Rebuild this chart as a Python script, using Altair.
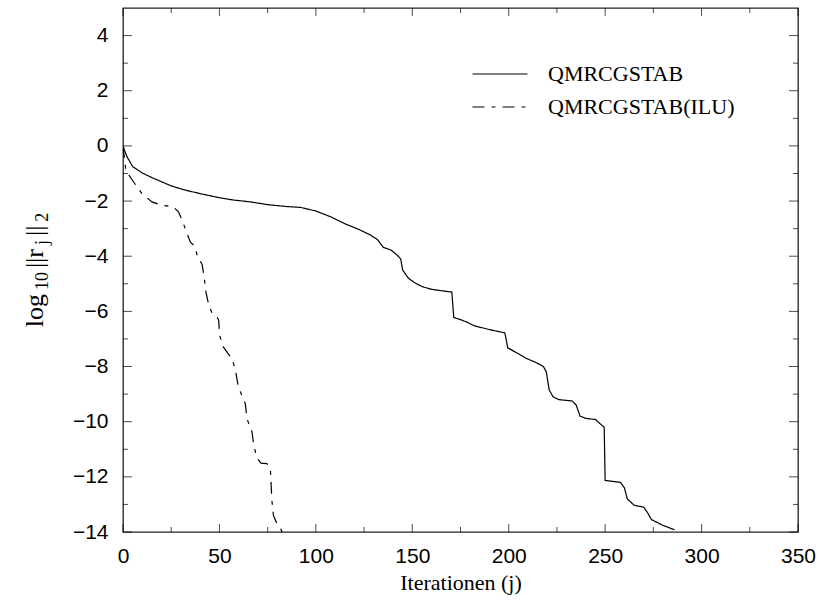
import altair as alt
import pandas as pd

# ---- data ----
methods = ["QMRCGSTAB", "QMRCGSTAB(ILU)"]

solid_x = [0, 1, 2, 5, 10, 15, 20, 25, 32, 40, 50, 57, 66, 75, 85, 92, 100, 108, 115, 122,
           128, 132, 135, 139, 142, 144, 145, 148, 151, 155, 160, 166, 170.5, 171.5, 175, 178,
           182, 190, 198, 199.5, 204, 209, 214, 218, 219.5, 221, 223, 226, 233, 235, 237, 240,
           245, 247, 249.5, 250, 258, 260, 261.5, 265, 270, 272, 274, 280, 286]
solid_y = [0.0, -0.2, -0.38, -0.75, -0.98, -1.15, -1.3, -1.45, -1.6, -1.73, -1.88, -1.96, -2.03,
           -2.13, -2.2, -2.23, -2.36, -2.58, -2.82, -3.02, -3.22, -3.4, -3.68, -3.78, -3.95, -4.1,
           -4.5, -4.8, -4.95, -5.1, -5.2, -5.26, -5.3, -6.22, -6.3, -6.38, -6.52, -6.66, -6.78,
           -7.32, -7.5, -7.7, -7.85, -8.0, -8.2, -8.85, -9.1, -9.2, -9.25, -9.4, -9.8, -9.88,
           -9.92, -10.05, -10.2, -12.13, -12.2, -12.4, -12.8, -13.03, -13.1, -13.3, -13.55,
           -13.76, -13.92]

ilu_x = [0, 1.5, 3, 5.5, 9.8, 15, 20, 26, 28.8, 30.6, 32.8, 34.9, 37.5, 38.4, 41, 42, 43, 44.4,
         46.1, 48.7, 49.6, 50.1, 52, 54.5, 56.5, 58.2, 59.5, 61.5, 63.4, 64.3, 66.9, 67.7, 69.3,
         71.5, 74.6, 76.4, 77.2, 78, 79.5, 81.5, 82.5]
ilu_y = [0.0, -0.9, -1.05, -1.31, -1.73, -2.03, -2.15, -2.21, -2.39, -2.69, -3.1, -3.48, -3.66,
         -3.96, -4.3, -4.7, -5.3, -5.75, -6.05, -6.2, -6.32, -6.87, -7.29, -7.53, -7.71, -8.1,
         -8.62, -9.04, -9.34, -9.9, -10.37, -10.8, -11.3, -11.5, -11.52, -11.7, -12.85, -13.4,
         -13.65, -13.85, -14.0]

x_major = [0, 50, 100, 150, 200, 250, 300, 350]
x_minor = [25, 75, 125, 175, 225, 275, 325]
y_major = [-14, -12, -10, -8, -6, -4, -2, 0, 2, 4]
y_minor = [-13, -11, -9, -7, -5, -3, -1, 1, 3]

# y-axis title pieces: (text, is_subscript)
ytitle_parts = [("log", False), ("10", True), ("||r", False), ("j", True), ("||", False), ("2", True)]

df = pd.DataFrame({
    "j": solid_x + ilu_x,
    "r": solid_y + ilu_y,
    "method": [methods[0]] * len(solid_x) + [methods[1]] * len(ilu_x),
})

W, H = 675, 524
PAD_L, PAD_T = 123, 8

xscale = alt.Scale(domain=[0, 350], nice=False, zero=False)
yscale = alt.Scale(domain=[-14, 5], nice=False, zero=False)

xaxis = alt.Axis(values=x_major, title="Iterationen (j)", ticks=False, domain=False,
                 grid=False, labelPadding=13, titlePadding=6, format="d", labelFlush=False)
yaxis = alt.Axis(values=y_major, title=None, ticks=False, domain=False,
                 grid=False, labelPadding=15, format="d", labelFlush=False)

lines = alt.Chart(df).mark_line(color="black", strokeWidth=1.2, clip=True).encode(
    x=alt.X("j:Q", scale=xscale, axis=xaxis),
    y=alt.Y("r:Q", scale=yscale, axis=yaxis),
    strokeDash=alt.StrokeDash(
        "method:N",
        scale=alt.Scale(domain=methods, range=[[1, 0], [12, 7, 4, 7]]),
        legend=alt.Legend(title=None, orient="none", legendX=366, legendY=55,
                          symbolType="M-5,0H5", symbolSize=121, symbolStrokeColor="black",
                          symbolStrokeWidth=1.2, labelFont="Liberation Serif", labelFontSize=22,
                          labelColor="black", labelOffset=37, rowPadding=11, labelLimit=400),
    ),
)


def xticks(vals, at, length, sign):
    return alt.Chart(pd.DataFrame({"v": vals})).mark_tick(
        orient="vertical", size=length, thickness=1, color="black", yOffset=sign * length / 2
    ).encode(
        x=alt.X("v:Q", scale=xscale, axis=xaxis),
        y=alt.YDatum(at, scale=yscale, axis=yaxis),
    )


def yticks(vals, at, length, sign):
    return alt.Chart(pd.DataFrame({"v": vals})).mark_tick(
        orient="horizontal", size=length, thickness=1, color="black", xOffset=sign * length / 2
    ).encode(
        y=alt.Y("v:Q", scale=yscale, axis=yaxis),
        x=alt.XDatum(at, scale=xscale, axis=xaxis),
    )


ticks = [
    xticks(x_major, -14, 8, -1), xticks(x_minor, -14, 5, -1),
    xticks(x_major, 5, 8, 1), xticks(x_minor, 5, 5, 1),
    yticks(y_major, 0, 9, 1), yticks(y_minor, 0, 5, 1),
    yticks(y_major, 350, 9, -1), yticks(y_minor, 350, 5, -1),
]

# --- rotated y title built from pieces so that subscripts are real subscripts ---
MAIN, SUB, GAP = 26, 18, 4
char_w = {"l": 0.278, "o": 0.5, "g": 0.5, "1": 0.5, "0": 0.5, "|": 0.2, "r": 0.333,
          "j": 0.278, "2": 0.5}
lengths = [sum(char_w[c] for c in t) * (SUB if s else MAIN) for t, s in ytitle_parts]
total = sum(lengths) + GAP * (len(lengths) - 1)
pos = 270 + total / 2  # screen y of the start (bottom) of the title
title_layers = []
for (t, s), L in zip(ytitle_parts, lengths):
    centre = pos - L / 2
    pos -= L + GAP
    title_layers.append(
        alt.Chart(pd.DataFrame({"k": [0]})).mark_text(
            text=t, angle=270, align="center", baseline="alphabetic",
            font="Liberation Serif", fontSize=SUB if s else MAIN, color="black",
        ).encode(
            x=alt.value((48 if s else 43) - PAD_L),
            y=alt.value(centre - PAD_T),
        )
    )

chart = alt.layer(lines, *ticks, *title_layers).properties(
    width=W,
    height=H,
    autosize=alt.AutoSizeParams(type="none"),
    padding={"left": PAD_L, "top": PAD_T, "right": 832 - PAD_L - W, "bottom": 602 - PAD_T - H},
    background="white",
).configure_view(
    stroke="#222222", strokeWidth=1.3
).configure_axis(
    labelFont="Liberation Sans", labelFontSize=21, labelColor="black",
    titleFont="Liberation Serif", titleFontSize=22, titleFontWeight="normal", titleColor="black",
)

chart.save("out.html", embed_options={"renderer": "svg", "actions": False})
